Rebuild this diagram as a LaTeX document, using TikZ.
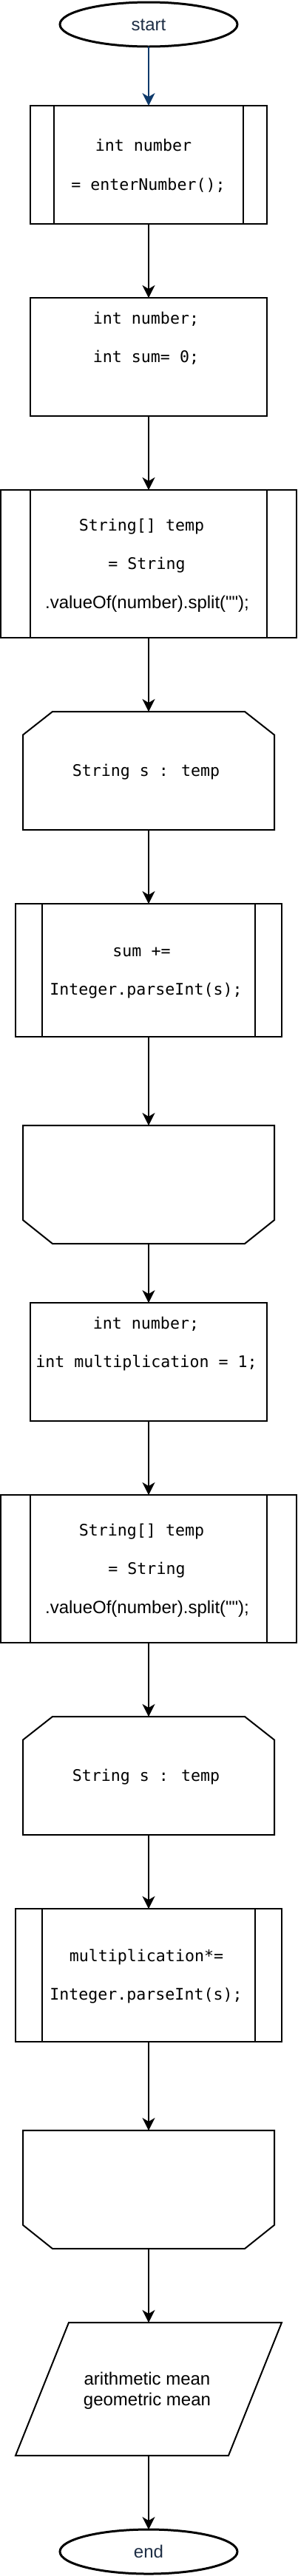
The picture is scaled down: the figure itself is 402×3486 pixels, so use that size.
\documentclass[tikz,border=0pt]{standalone}
\usepackage{fontspec}
\newfontfamily\sanf{Liberation Sans}
\newfontfamily\monof{DejaVu Sans Mono}
\usetikzlibrary{arrows.meta,shapes.geometric}
\definecolor{navy}{HTML}{0E3A6B}
\definecolor{textnavy}{HTML}{1E2E45}
\begin{document}
\begin{tikzpicture}[x=1pt,y=-1pt,
  every node/.style={inner sep=0pt,outer sep=0pt},
  sanstext/.style={font=\sanf\fontsize{24}{28.8}\selectfont,text height=17.2pt,text depth=0pt},
  monotext/.style={font=\monof\fontsize{21.6}{26}\selectfont,text height=15.7pt,text depth=0pt},
  term/.style={ellipse,draw=black,line width=3pt,minimum width=240pt,minimum height=60pt,text=textnavy,sanstext},
  proc/.style={rectangle,draw=black,line width=2pt},
  frame/.style={rectangle,draw=none},
  shp/.style={draw=black,line width=2pt,line join=miter},
  flow/.style={draw=black,line width=2pt,-{Stealth[length=17pt,width=17pt,inset=5pt]}},
]
\useasboundingbox (0,0) rectangle (402,3486);

% start
\node[term] (start) at (201,33) {start};

% box 1 (subprocess)
\node[proc,minimum width=320pt,minimum height=160pt] (b1) at (201,223) {};
\draw[shp] ([xshift=32pt]b1.north west) -- ([xshift=32pt]b1.south west);
\draw[shp] ([xshift=-32pt]b1.north east) -- ([xshift=-32pt]b1.south east);
\node[monotext] (b1a) at (194,197) {int number};
\node[monotext] (b1b) at (200.5,250) {= enterNumber();};

% box 2 (process)
\node[proc,minimum width=320pt,minimum height=160pt] (b2) at (201,483) {};
\node[monotext] (b2a) at (197.5,431) {int number;};
\node[monotext] (b2b) at (197.5,483) {int sum= 0;};

% box 3 (subprocess)
\node[proc,minimum width=400pt,minimum height=200pt] (b3) at (201,763) {};
\draw[shp] ([xshift=40pt]b3.north west) -- ([xshift=40pt]b3.south west);
\draw[shp] ([xshift=-40pt]b3.north east) -- ([xshift=-40pt]b3.south east);
\node[monotext] (b3a) at (191.5,711) {String[] temp};
\node[monotext] (b3b) at (198.5,763) {= String};
\node[sanstext] (b3c) at (199,815) {.valueOf(number).split("");};

% loop start 1
\node[frame,minimum width=340pt,minimum height=160pt] (l1) at (201,1043) {};
\draw[shp] (l1.south west) -- ([yshift=-31.5pt]l1.north west) -- ([xshift=40pt]l1.north west)
  -- ([xshift=-40pt]l1.north east) -- ([yshift=-31.5pt]l1.north east) -- (l1.south east) -- cycle;
\node[monotext] (l1a) at (197.5,1043) {String s : temp};

% box 4 (subprocess)
\node[proc,minimum width=360pt,minimum height=180pt] (b4) at (201,1313) {};
\draw[shp] ([xshift=36pt]b4.north west) -- ([xshift=36pt]b4.south west);
\draw[shp] ([xshift=-36pt]b4.north east) -- ([xshift=-36pt]b4.south east);
\node[monotext] (b4a) at (191.5,1287) {sum +=};
\node[monotext] (b4b) at (197.5,1339) {Integer.parseInt(s);};

% loop end 1
\node[frame,minimum width=340pt,minimum height=160pt] (e1) at (201,1603) {};
\draw[shp] (e1.north west) -- ([yshift=32pt]e1.south west) -- ([xshift=40pt]e1.south west)
  -- ([xshift=-40pt]e1.south east) -- ([yshift=32pt]e1.south east) -- (e1.north east) -- cycle;

% box 5 (process)
\node[proc,minimum width=320pt,minimum height=160pt] (b5) at (201,1843) {};
\node[monotext] (b5a) at (197.5,1791) {int number;};
\node[monotext] (b5b) at (198,1843) {int multiplication = 1;};

% box 6 (subprocess)
\node[proc,minimum width=400pt,minimum height=200pt] (b6) at (201,2123) {};
\draw[shp] ([xshift=40pt]b6.north west) -- ([xshift=40pt]b6.south west);
\draw[shp] ([xshift=-40pt]b6.north east) -- ([xshift=-40pt]b6.south east);
\node[monotext] (b6a) at (191.5,2071) {String[] temp};
\node[monotext] (b6b) at (198.5,2123) {= String};
\node[sanstext] (b6c) at (199,2175) {.valueOf(number).split("");};

% loop start 2
\node[frame,minimum width=340pt,minimum height=160pt] (l2) at (201,2403) {};
\draw[shp] (l2.south west) -- ([yshift=-31.5pt]l2.north west) -- ([xshift=40pt]l2.north west)
  -- ([xshift=-40pt]l2.north east) -- ([yshift=-31.5pt]l2.north east) -- (l2.south east) -- cycle;
\node[monotext] (l2a) at (197.5,2403) {String s : temp};

% box 7 (subprocess)
\node[proc,minimum width=360pt,minimum height=180pt] (b7) at (201,2673) {};
\draw[shp] ([xshift=36pt]b7.north west) -- ([xshift=36pt]b7.south west);
\draw[shp] ([xshift=-36pt]b7.north east) -- ([xshift=-36pt]b7.south east);
\node[monotext] (b7a) at (198,2647) {multiplication*=};
\node[monotext] (b7b) at (197.5,2699) {Integer.parseInt(s);};

% loop end 2
\node[frame,minimum width=340pt,minimum height=160pt] (e2) at (201,2963) {};
\draw[shp] (e2.north west) -- ([yshift=32pt]e2.south west) -- ([xshift=40pt]e2.south west)
  -- ([xshift=-40pt]e2.south east) -- ([yshift=32pt]e2.south east) -- (e2.north east) -- cycle;

% output parallelogram
\node[frame,minimum width=360pt,minimum height=180pt] (p1) at (201,3233) {};
\draw[shp] (p1.south west) -- ([xshift=-72pt]p1.south east) -- (p1.north east)
  -- ([xshift=72pt]p1.north west) -- cycle;
\node[sanstext] (p1a) at (199,3219) {arithmetic mean};
\node[sanstext] (p1b) at (199,3247) {geometric mean};

% end
\node[term] (end) at (201,3453) {end};

% connectors
\draw[flow,draw=navy] (start) -- (b1);
\draw[flow] (b1) -- (b2);
\draw[flow] (b2) -- (b3);
\draw[flow] (b3) -- (l1);
\draw[flow] (l1) -- (b4);
\draw[flow] (b4) -- (e1);
\draw[flow] (e1) -- (b5);
\draw[flow] (b5) -- (b6);
\draw[flow] (b6) -- (l2);
\draw[flow] (l2) -- (b7);
\draw[flow] (b7) -- (e2);
\draw[flow] (e2) -- (p1);
\draw[flow] (p1) -- (end);
\end{tikzpicture}
\end{document}
